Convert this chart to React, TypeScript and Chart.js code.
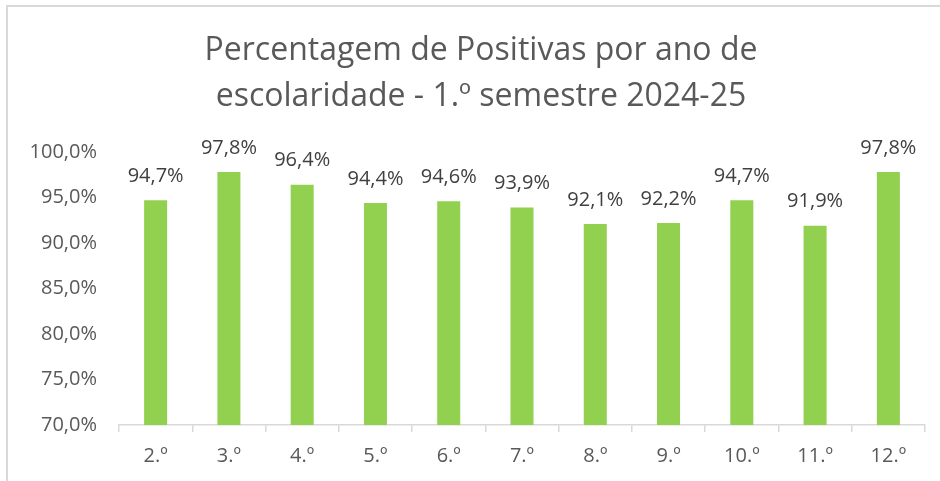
import React, { useEffect, useRef } from "react";
import { Chart, registerables } from "chart.js";

Chart.register(...registerables);

const categories = ["2.º", "3.º", "4.º", "5.º", "6.º", "7.º", "8.º", "9.º", "10.º", "11.º", "12.º"];
const positivas = [94.7, 97.8, 96.4, 94.4, 94.6, 93.9, 92.1, 92.2, 94.7, 91.9, 97.8];
const titleLines = ["Percentagem de Positivas por ano de", "escolaridade - 1.º semestre 2024-25"];
const yMin = 70;
const yMax = 100;
const yStep = 5;

const FONT = "'Open Sans', sans-serif";

const fmt = (v: number) => v.toFixed(1).replace(".", ",") + "%";

const dataLabels = {
  id: "dataLabels",
  afterDatasetsDraw(chart: any) {
    const ctx = chart.ctx;
    const meta = chart.getDatasetMeta(0);
    ctx.save();
    ctx.font = `20px ${FONT}`;
    ctx.fillStyle = "#404040";
    ctx.textAlign = "center";
    ctx.textBaseline = "bottom";
    meta.data.forEach((bar: any, i: number) => {
      ctx.fillText(fmt(positivas[i]), bar.x, bar.y - 14);
    });
    ctx.restore();
  },
};

const titlePlugin = {
  id: "customTitle",
  afterDraw(chart: any) {
    const ctx = chart.ctx;
    ctx.save();
    ctx.font = `32px ${FONT}`;
    ctx.fillStyle = "#595959";
    ctx.textAlign = "center";
    ctx.textBaseline = "middle";
    titleLines.forEach((line, i) => {
      ctx.fillText(line, 481, 51 + i * 46);
    });
    ctx.restore();
  },
};

export default function App() {
  const ref = useRef<HTMLCanvasElement>(null);
  useEffect(() => {
    if (!ref.current) return;
    const chart = new Chart(ref.current, {
      type: "bar",
      data: {
        labels: categories,
        datasets: [
          {
            data: positivas,
            backgroundColor: "#92D050",
            barPercentage: 0.314,
            categoryPercentage: 1,
          },
        ],
      },
      options: {
        responsive: false,
        animation: false,
        layout: { padding: { left: 0, right: 15, top: 152, bottom: 1 } },
        plugins: {
          legend: { display: false },
          tooltip: { enabled: false },
          title: { display: false },
        },
        scales: {
          x: {
            offset: true,
            grid: {
              display: true,
              offset: true,
              drawOnChartArea: false,
              drawTicks: true,
              tickLength: 7,
              color: "#d9d9d9",
              lineWidth: 1.5,
            },
            border: { display: true, color: "#d9d9d9", width: 1.5 },
            ticks: {
              color: "#595959",
              font: { family: FONT, size: 20 },
              padding: 12,
            },
          },
          y: {
            min: yMin,
            max: yMax,
            grid: { display: false, drawTicks: false },
            border: { display: false },
            ticks: {
              stepSize: yStep,
              color: "#595959",
              font: { family: FONT, size: 20 },
              padding: 22,
              callback: (v: any) => fmt(Number(v)),
            },
            afterFit: (s: any) => {
              s.width = 119;
            },
          },
        },
      },
      plugins: [dataLabels, titlePlugin],
    });
    return () => chart.destroy();
  }, []);
  return (
    <div style={{ position: "fixed", left: 0, top: 0, width: 940, height: 481, background: "#fff", overflow: "hidden" }}>
      <canvas ref={ref} width={940} height={481} style={{ position: "absolute", left: 0, top: 0, width: 940, height: 481 }} />
      <div
        style={{
          position: "absolute",
          left: 6,
          top: 5,
          width: 1000,
          height: 600,
          borderTop: "2px solid #d9d9d9",
          borderLeft: "2px solid #d9d9d9",
          pointerEvents: "none",
        }}
      />
    </div>
  );
}
